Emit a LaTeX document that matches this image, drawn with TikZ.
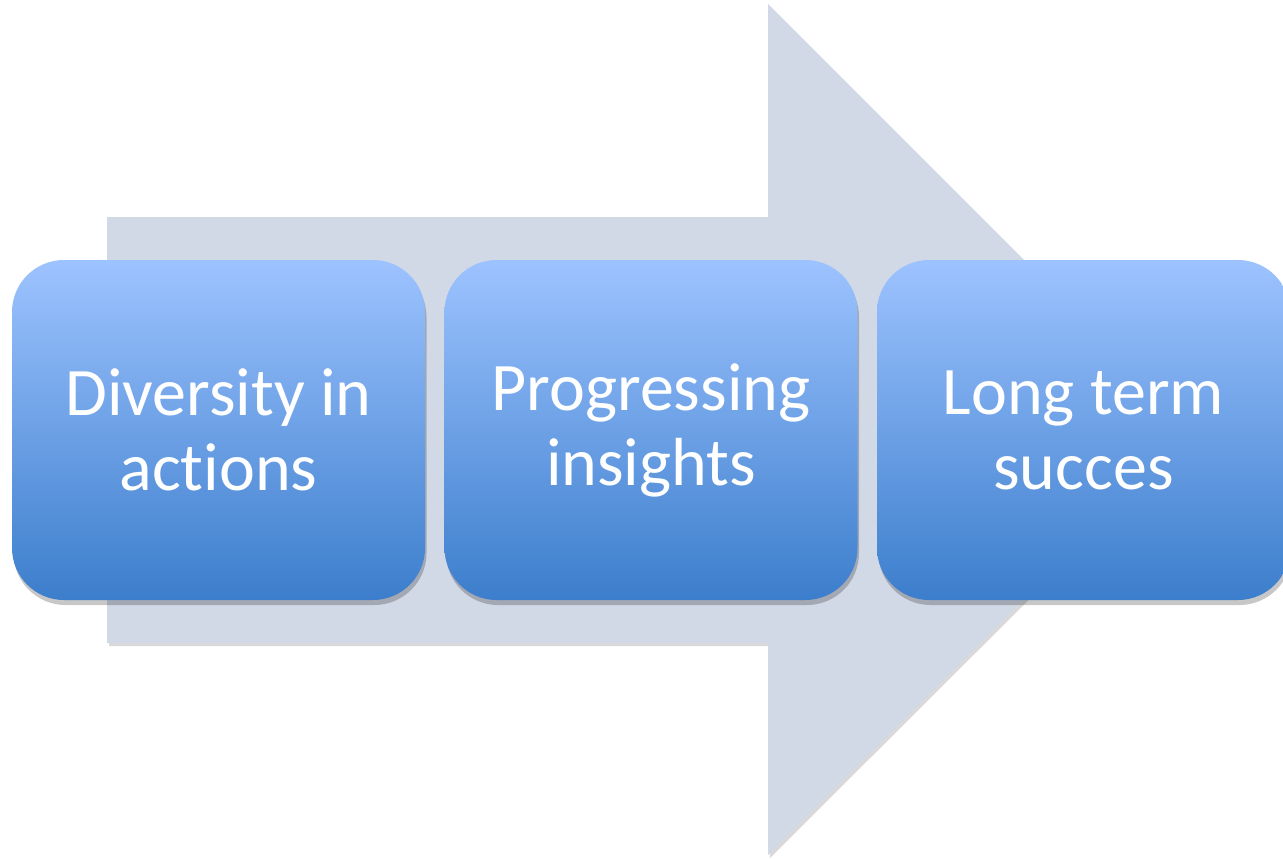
\documentclass[tikz,border=0pt]{standalone}
\usepackage{fontspec}
\setmainfont[Ligatures={NoCommon,NoRare,NoContextual}]{Carlito}
\usetikzlibrary{shadows}
\definecolor{arrowfill}{RGB}{209,216,230}
\definecolor{boxtop}{RGB}{157,195,255}
\definecolor{boxbot}{RGB}{60,126,204}
\tikzset{
  stepbox/.style={rectangle, rounded corners=52pt, minimum width=413pt, minimum height=340pt,
    inner sep=0pt, top color=boxtop, bottom color=boxbot, draw=none,
    text=white, align=center, font=\fontsize{68}{75}\selectfont,
    drop shadow={shadow xshift=1.5pt, shadow yshift=-5pt, opacity=0.22, fill=black}},
  bigarrow/.style={fill=arrowfill, draw=none,
    drop shadow={shadow xshift=2pt, shadow yshift=-3pt, opacity=0.15, fill=black}}
}
\begin{document}
\begin{tikzpicture}[x=1pt,y=-1pt]
\useasboundingbox (0,0) rectangle (1283,859);
\clip (0,0) rectangle (1283,859);
\path[bigarrow] (107,217) -- (768,217) -- (768,4) -- (1194,430) -- (768,855) -- (768,643) -- (107,643) -- cycle;
\node[stepbox] (b1) at (218.5,430) {Diversity in\\actions};
\node[stepbox] (b2) at (651,430) {Progressing\\insights};
\node[stepbox] (b3) at (1083.5,430) {Long term\\succes};
\end{tikzpicture}
\end{document}
